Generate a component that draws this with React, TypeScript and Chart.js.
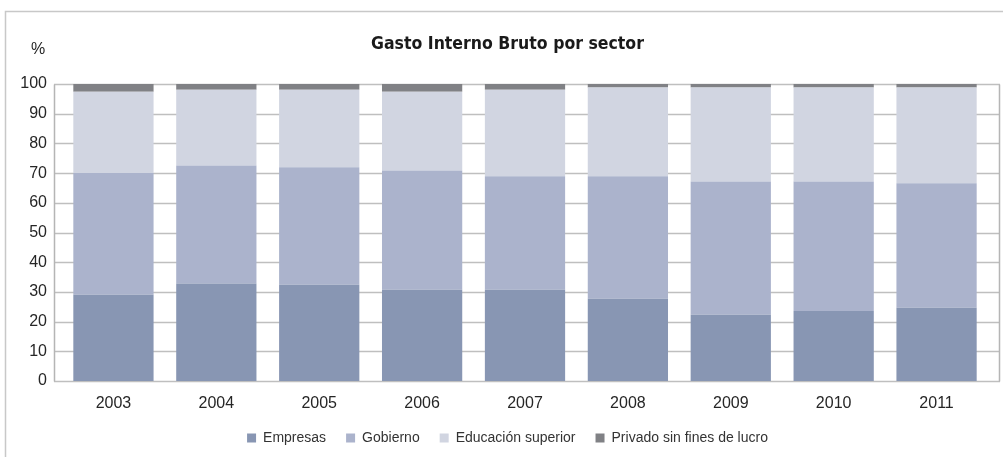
import React, { useEffect, useRef } from "react";
import { Chart, registerables } from "chart.js";

Chart.register(...registerables);

const years = ["2003", "2004", "2005", "2006", "2007", "2008", "2009", "2010", "2011"];
const empresas = [29.0, 32.8, 32.4, 30.7, 30.7, 27.7, 22.3, 23.6, 24.7];
const gobierno = [41.0, 39.8, 39.6, 40.2, 38.2, 41.2, 44.9, 43.6, 41.9];
const educacion = [27.4, 25.5, 26.1, 26.5, 29.2, 29.9, 31.6, 31.6, 32.2];
const privado = [2.6, 1.9, 1.9, 2.6, 1.9, 1.2, 1.2, 1.2, 1.2];
const yTicks = [0, 10, 20, 30, 40, 50, 60, 70, 80, 90, 100];

const FONT = "'Liberation Sans', Arial, sans-serif";
const TITLE_FONT = "'Liberation Sans Narrow', 'DejaVu Sans Condensed', 'Liberation Sans', sans-serif";

const framePlugin = {
  id: "framePlugin",
  afterLayout(chart: any) {
    // let the y tick labels extend into the left padding without being clipped
    chart.scales.y.left = 0;
  },
  beforeDraw(chart: any) {
    const ctx = chart.ctx;
    ctx.save();
    ctx.fillStyle = "#ffffff";
    ctx.fillRect(0, 0, chart.width, chart.height);
    ctx.strokeStyle = "#c8c8c8";
    ctx.lineWidth = 1.5;
    ctx.beginPath();
    ctx.moveTo(5.5, chart.height);
    ctx.lineTo(5.5, 11.5);
    ctx.lineTo(chart.width, 11.5);
    ctx.stroke();
    ctx.fillStyle = "#262626";
    ctx.font = `16px ${FONT}`;
    ctx.textAlign = "center";
    ctx.textBaseline = "middle";
    ctx.fillText("%", 38, 50);
    ctx.restore();
  },
  beforeDatasetsDraw(chart: any) {
    const ctx = chart.ctx;
    const area = chart.chartArea;
    const y = chart.scales.y;
    const left = area.left - 8;
    const right = area.right + 12;
    ctx.save();
    ctx.strokeStyle = "#bfbfbf";
    ctx.lineWidth = 1.5;
    yTicks.forEach((v) => {
      const py = Math.round(y.getPixelForValue(v)) + 0.5;
      ctx.beginPath();
      ctx.moveTo(left, py);
      ctx.lineTo(right, py);
      ctx.stroke();
    });
    ctx.strokeStyle = "#b5b5b5";
    ctx.beginPath();
    const top = Math.round(y.getPixelForValue(100)) + 0.5;
    const bottom = Math.round(y.getPixelForValue(0)) + 0.5;
    ctx.moveTo(left + 0.5, top);
    ctx.lineTo(left + 0.5, bottom);
    ctx.moveTo(right - 0.5, top);
    ctx.lineTo(right - 0.5, bottom);
    ctx.stroke();
    ctx.restore();
  },
};

export default function App() {
  const ref = useRef<HTMLCanvasElement | null>(null);

  useEffect(() => {
    document.body.style.margin = "0";
    const canvas = ref.current;
    if (!canvas) return;
    const chart = new Chart(canvas, {
      type: "bar",
      data: {
        labels: years,
        datasets: [
          { label: "Empresas", data: empresas, backgroundColor: "#8896b3" },
          { label: "Gobierno", data: gobierno, backgroundColor: "#abb3cc" },
          { label: "Educación superior", data: educacion, backgroundColor: "#d1d5e1" },
          { label: "Privado sin fines de lucro", data: privado, backgroundColor: "#808185" },
        ],
      },
      options: {
        responsive: false,
        animation: false,
        devicePixelRatio: 1,
        layout: { padding: { left: 27, right: 15, top: 0, bottom: 2 } },
        datasets: {
          bar: { barPercentage: 0.78, categoryPercentage: 1, borderWidth: 0 },
        },
        scales: {
          x: {
            stacked: true,
            afterFit: (scale: any) => {
              scale.height = 30;
            },
            grid: { display: false, drawTicks: false },
            border: { display: false },
            ticks: { color: "#262626", font: { family: FONT, size: 16 }, padding: 13 },
          },
          y: {
            stacked: true,
            min: 0,
            max: 100,
            afterFit: (scale: any) => {
              scale.width = 35;
            },
            afterBuildTicks: (scale: any) => {
              scale.ticks = yTicks.map((v) => ({ value: v }));
            },
            grid: { display: false, drawTicks: false },
            border: { display: false },
            ticks: { color: "#262626", font: { family: FONT, size: 16 }, padding: 15 },
          },
        },
        plugins: {
          title: {
            display: true,
            text: "Gasto Interno Bruto por sector",
            color: "#1a1a1a",
            font: { family: TITLE_FONT, size: 17.5, weight: "bold" },
            padding: { top: 34, bottom: 29 },
          },
          legend: {
            position: "bottom",
            labels: {
              boxWidth: 9,
              boxHeight: 9,
              padding: 20,
              color: "#333333",
              font: { family: FONT, size: 14 },
            },
          },
          tooltip: { enabled: false },
        },
      },
      plugins: [framePlugin],
    });
    return () => chart.destroy();
  }, []);

  return (
    <div style={{ width: 1003, height: 457 }}>
      <canvas ref={ref} width={1003} height={457} style={{ display: "block" }} />
    </div>
  );
}
